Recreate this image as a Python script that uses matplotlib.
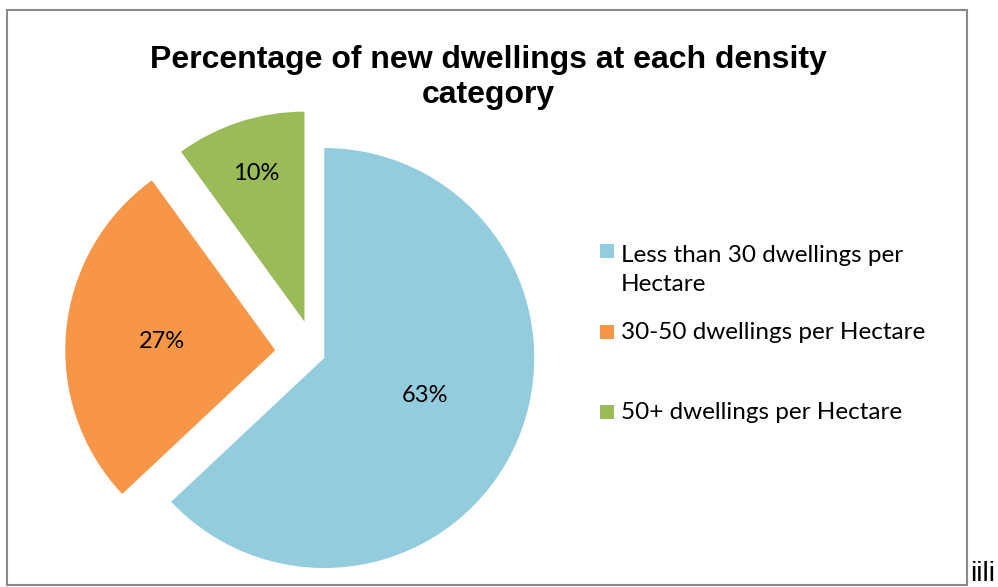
import matplotlib
matplotlib.use('Agg')
import matplotlib.pyplot as plt
from matplotlib.patches import Rectangle
import numpy as np

# data
categories = ['Less than 30 dwellings per\nHectare', '30-50 dwellings per Hectare', '50+ dwellings per Hectare']
shares = [63, 27, 10]
colors = ['#93CDDD', '#F79646', '#9BBB59']
title = 'Percentage of new dwellings at each density\ncategory'

W, H = 998, 587
fig = plt.figure(figsize=(W / 100, H / 100), dpi=100)


def px(x, y):
    # pixel position (from top left) -> figure coords
    return x / W, 1 - y / H


# chart area border
fig.patches.append(Rectangle(px(7, 585), 960 / W, 575 / H, transform=fig.transFigure,
                             fill=False, ec='#8a8a8a', lw=1.5))

# pie axes, 1 data unit = R px
R = 210
L = 1.3
cx, cy = 315, 354
ax = fig.add_axes([(cx - L * R) / W, (H - cy - L * R) / H, 2 * L * R / W, 2 * L * R / H])
wedges, texts, autotexts = ax.pie(shares, colors=colors, startangle=90, counterclock=False,
                                  explode=[0.048, 0.19, 0.162], autopct='%1.0f%%',
                                  textprops=dict(fontfamily='Lato', fontsize=17, color='black'),
                                  wedgeprops=dict(linewidth=0))
ax.set_xlim(-L, L)
ax.set_ylim(-L, L)
ax.axis('off')

# percentage labels placed near each wedge's middle
label_dist = [0.51, 0.54, 0.75]
label_turn = [4, 0, 0]  # degrees
for w, t, d, a in zip(wedges, autotexts, label_dist, label_turn):
    mid = np.deg2rad((w.theta1 + w.theta2) / 2 + a)
    t.set_position((w.center[0] + d * np.cos(mid), w.center[1] + d * np.sin(mid)))
    t.set_ha('center')
    t.set_va('center_baseline')

# title (baseline = last line)
fig.text(488 / W, px(0, 103)[1], title, ha='center', va='baseline',
         fontfamily='Liberation Sans', fontweight='bold', fontsize=23, linespacing=1.2)

# legend drawn by hand (uneven row spacing like the original)
sq = 14
rows = [258, 339, 419]
for lab, col, yb in zip(categories, colors, rows):
    fig.patches.append(Rectangle(px(600, yb), sq / W, sq / H, transform=fig.transFigure,
                                 fc=col, ec='none'))
    nl = lab.count('\n')
    fig.text(*px(621, yb + 33 * nl), lab, ha='left', va='baseline', fontfamily='Lato',
             fontsize=17.5, linespacing=1.45)

# stray text outside the chart frame
fig.text(*px(970, 587), 'iili', ha='left', va='bottom', fontfamily='Liberation Sans', fontsize=20)

fig.savefig('out.png', dpi=100)
